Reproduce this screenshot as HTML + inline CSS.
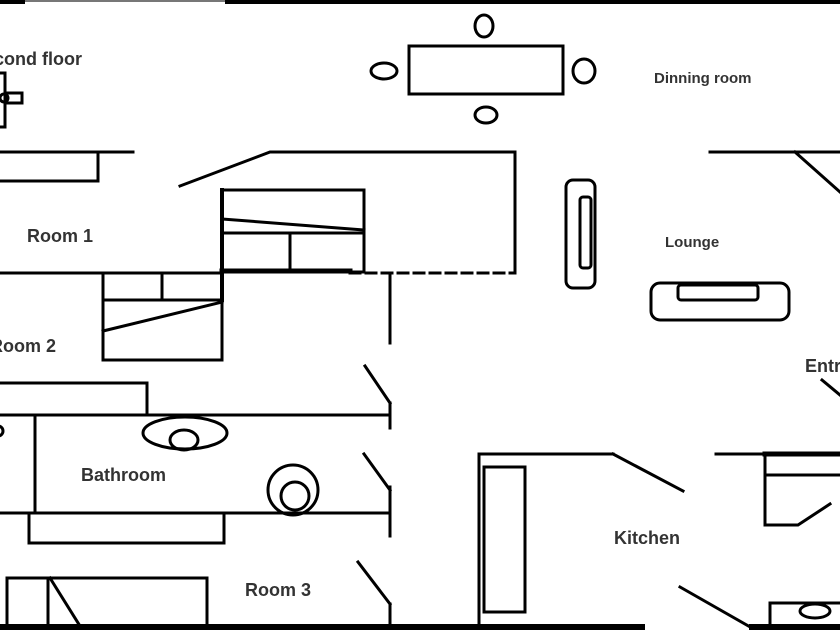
<!DOCTYPE html>
<html><head><meta charset="utf-8"><style>
html,body{margin:0;padding:0;background:#fff;}
svg{display:block;}
text{font-family:"Liberation Sans","DejaVu Sans",sans-serif;fill:#333;font-weight:bold;}
</style></head><body>
<svg width="840" height="630" viewBox="0 0 840 630" xmlns="http://www.w3.org/2000/svg">
<rect width="840" height="630" fill="#fff"/>
<g stroke="#000" stroke-width="3" fill="none" stroke-linecap="square">
<rect x="0" y="0" width="25" height="4" fill="#000" stroke="none"/>
<rect x="25" y="0" width="200" height="2" fill="#777" stroke="none"/>
<rect x="225" y="0" width="615" height="4" fill="#000" stroke="none"/>
<rect x="-3" y="73" width="8" height="54"/>
<rect x="5" y="93" width="17" height="10"/>
<circle cx="4" cy="98" r="4"/>
<rect x="409" y="46" width="154" height="48"/>
<ellipse cx="484" cy="26" rx="9" ry="11"/>
<ellipse cx="584" cy="71" rx="11" ry="12"/>
<ellipse cx="486" cy="115" rx="11" ry="8"/>
<ellipse cx="384" cy="71" rx="13" ry="8"/>
<polyline points="0,152 133,152"/>
<polyline points="98,152 98,181 0,181"/>
<polyline points="180,186 270,152 515,152 515,273"/>
<rect x="222" y="190" width="142" height="82"/>
<line x1="222" y1="219" x2="364" y2="230"/>
<line x1="222" y1="233" x2="364" y2="233"/>
<line x1="290" y1="233" x2="290" y2="270"/>
<line x1="222" y1="271" x2="350" y2="271" stroke-width="5"/>
<line x1="350" y1="273" x2="515" y2="273" stroke-dasharray="10 6"/>
<line x1="222" y1="190" x2="222" y2="300" stroke-width="4"/>
<line x1="0" y1="273" x2="222" y2="273"/>
<rect x="103" y="273" width="119" height="87"/>
<line x1="103" y1="300" x2="222" y2="300"/>
<line x1="162" y1="273" x2="162" y2="300"/>
<line x1="103" y1="331" x2="222" y2="302"/>
<line x1="390" y1="273" x2="390" y2="343"/>
<line x1="365" y1="366" x2="390" y2="403"/>
<polyline points="0,383 147,383 147,414"/>
<line x1="0" y1="415" x2="390" y2="415"/>
<line x1="390" y1="403" x2="390" y2="428"/>
<line x1="35" y1="418" x2="35" y2="512"/>
<circle cx="-2" cy="431" r="5"/>
<ellipse cx="185" cy="433" rx="42" ry="16"/>
<ellipse cx="184" cy="440" rx="14" ry="10"/>
<circle cx="293" cy="490" r="25"/>
<circle cx="295" cy="496" r="14"/>
<line x1="0" y1="513" x2="390" y2="513"/>
<line x1="390" y1="487" x2="390" y2="536"/>
<line x1="364" y1="454" x2="390" y2="490"/>
<rect x="29" y="513" width="195" height="30"/>
<rect x="7" y="578" width="200" height="48"/>
<line x1="48" y1="578" x2="48" y2="626"/>
<line x1="50" y1="578" x2="80" y2="626"/>
<line x1="358" y1="562" x2="390" y2="604"/>
<line x1="390" y1="604" x2="390" y2="626"/>
<polyline points="613,454 479,454 479,626"/>
<rect x="484" y="467" width="41" height="145"/>
<line x1="613" y1="454" x2="683" y2="491"/>
<line x1="680" y1="587" x2="752" y2="628"/>
<line x1="716" y1="454" x2="765" y2="454"/>
<line x1="765" y1="454" x2="840" y2="454" stroke-width="5"/>
<polyline points="765,454 765,525 798,525 830,504"/>
<line x1="765" y1="475" x2="840" y2="475"/>
<rect x="770" y="603" width="75" height="24"/>
<ellipse cx="815" cy="611" rx="15" ry="7"/>
<line x1="822" y1="380" x2="840" y2="395"/>
<line x1="710" y1="152" x2="840" y2="152"/>
<line x1="795" y1="152" x2="840" y2="192"/>
<rect x="566" y="180" width="29" height="108" rx="7"/>
<rect x="580" y="197" width="11" height="71" rx="3"/>
<rect x="651" y="283" width="138" height="37" rx="9"/>
<rect x="678" y="285" width="80" height="15" rx="3"/>
<line x1="0" y1="627" x2="642" y2="627" stroke-width="6"/>
<line x1="752" y1="627" x2="840" y2="627" stroke-width="6"/>
</g>
<text x="82" y="65" font-size="18" text-anchor="end">Second floor</text>
<text x="27" y="242" font-size="18">Room 1</text>
<text x="56" y="352" font-size="18" text-anchor="end">Room 2</text>
<text x="81" y="481" font-size="18">Bathroom</text>
<text x="245" y="596" font-size="18">Room 3</text>
<text x="614" y="544" font-size="18">Kitchen</text>
<text x="654" y="83" font-size="15">Dinning room</text>
<text x="665" y="247" font-size="15">Lounge</text>
<text x="805" y="372" font-size="18">Entrance</text>
</svg>
</body></html>
